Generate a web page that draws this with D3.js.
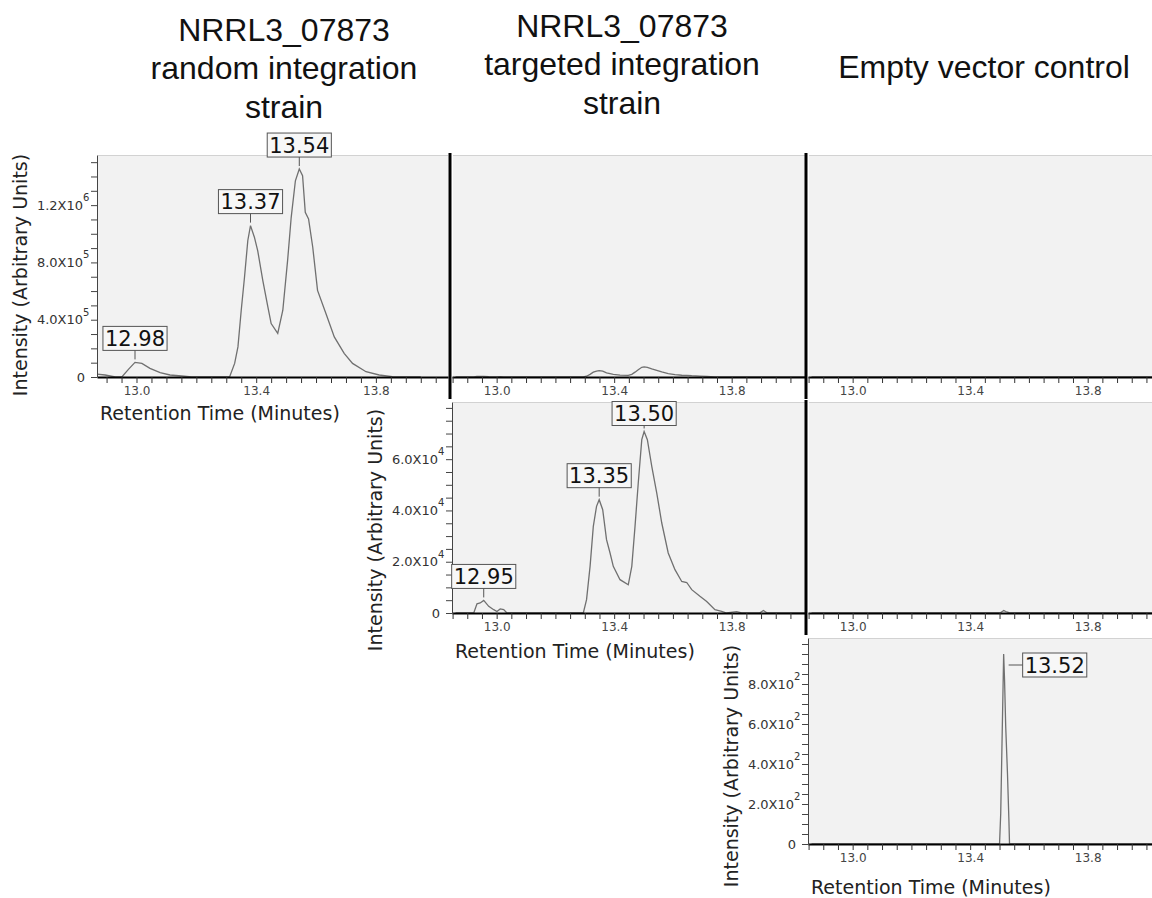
<!DOCTYPE html>
<html>
<head>
<meta charset="utf-8">
<script src="https://cdn.jsdelivr.net/npm/d3@7"></script>
<style>
  body { margin: 0; background: #fff; }
  svg text { font-family: "DejaVu Sans", sans-serif; }
</style>
</head>
<body>
<svg id="chart" width="1152" height="898"></svg>
<script>
// column headers, one per sample
const sampleTitles = [
  ["NRRL3_07873", "random integration", "strain"],
  ["NRRL3_07873", "targeted integration", "strain"],
  ["Empty vector control"]
];

// chromatogram traces (retention time in min, intensity)
const randomTime = [12.862, 12.895, 12.929, 12.951, 12.973, 12.995, 13.018, 13.045, 13.079, 13.112, 13.151, 13.184,
  13.311, 13.328, 13.339, 13.35, 13.361, 13.372, 13.381, 13.394, 13.405, 13.422, 13.439, 13.45, 13.472, 13.489,
  13.505, 13.517, 13.531, 13.544, 13.555, 13.564, 13.575, 13.589, 13.605, 13.633, 13.661, 13.694, 13.722, 13.767,
  13.811, 13.855, 13.95];
const randomIntensity = [21000, 14000, 0, 0, 53000, 102000, 95000, 60000, 30000, 14000, 7000, 0,
  0, 95000, 210000, 466000, 698000, 953000, 1057000, 976000, 883000, 675000, 489000, 373000, 304000, 466000,
  814000, 1115000, 1370000, 1452000, 1405000, 1150000, 1104000, 906000, 605000, 443000, 280000, 165000, 95000, 37000,
  14000, 2000, 0];

const targetedTime = [12.86, 12.922, 12.933, 12.944, 12.956, 12.973, 12.99, 13.001, 13.012, 13.024, 13.035,
  13.295, 13.306, 13.318, 13.329, 13.34, 13.349, 13.361, 13.374, 13.386, 13.397, 13.42, 13.448, 13.46, 13.471,
  13.482, 13.494, 13.502, 13.513, 13.528, 13.545, 13.562, 13.584, 13.607, 13.63, 13.647, 13.664, 13.692, 13.715,
  13.743, 13.766, 13.783, 13.817, 13.834, 13.895, 13.908, 13.921, 14.05];
const targetedIntensity = [0, 0, 3600, 3900, 4900, 2600, 1300, 600, 1600, 1300, 0,
  0, 5200, 18200, 33800, 41600, 44200, 40300, 28600, 23400, 18200, 13000, 11000, 18200, 33800,
  50700, 67600, 70800, 67600, 57200, 46800, 35100, 23400, 16900, 12300, 11900, 9100, 6500, 4500,
  1300, 600, 0, 500, 0, 0, 1000, 0, 0];

const emptyTime = [12.86, 13.45, 13.5, 13.504, 13.508, 13.512, 13.514, 13.517, 13.521, 13.527, 13.532, 13.534, 14.05];
const emptyIntensity = [0, 0, 0, 153, 470, 787, 950, 823, 587, 353, 112, 0, 0];

// labelled peaks
const randomPeaks = [12.98, 13.37, 13.54];
const targetedPeaks = [12.95, 13.35, 13.50];
const emptyPeaks = [13.52];

// axis ticks
const xTickLabels = [13.0, 13.4, 13.8];
const xMinorStep = 0.05;
const yMajorTicks = [[4e5, 8e5, 1.2e6], [2e4, 4e4, 6e4], [200, 400, 600, 800]];
const yMinorStep = [1e5, 5e3, 50];
const yMax = [1.55e6, 8.23e4, 1030];

// layout of the 3x3 (upper triangle) grid
const cols = [
  { x0: 97, x1: 448, domain: [12.868, 14.041], titleX: 284, titleY: [41, 79, 118] },
  { x0: 452, x1: 806, domain: [12.848, 14.053], titleX: 622, titleY: [37, 75, 114] },
  { x0: 808, x1: 1162, domain: [12.848, 14.053], titleX: 984, titleY: [78] }
];
const rows = [
  { top: 155, base: 377, yTitleY: 275, xTitleY: 420, labelTop: 0 },
  { top: 402, base: 613, yTitleY: 530, xTitleY: 658, labelTop: 401.5 },
  { top: 638, base: 844, yTitleY: 766, xTitleY: 894, labelTop: 638 }
];

const samples = [
  { time: randomTime, intensity: randomIntensity, peaks: randomPeaks },
  { time: targetedTime, intensity: targetedIntensity, peaks: targetedPeaks },
  { time: emptyTime, intensity: emptyIntensity, peaks: emptyPeaks }
];

const svg = d3.select("#chart");

// column titles
sampleTitles.forEach((lines, i) => {
  const t = svg.append("text")
    .attr("text-anchor", "middle")
    .style("font-family", '"Liberation Sans", Arial, sans-serif')
    .style("font-size", "32px")
    .attr("fill", "#111");
  lines.forEach((line, j) => {
    t.append("tspan").attr("x", cols[i].titleX).attr("y", cols[i].titleY[j]).text(line);
  });
});

function drawPanel(r, c) {
  const row = rows[r], col = cols[c], s = samples[c];
  const diag = r === c;

  const x = d3.scaleLinear().domain(col.domain).range([col.x0, col.x1]);
  const y = d3.scaleLinear().domain([0, yMax[r]]).range([row.base, row.top]);

  const g = svg.append("g").attr("class", `panel-${r}-${c}`);

  // plot background
  g.append("rect")
    .attr("x", col.x0 + 1)
    .attr("y", row.top)
    .attr("width", col.x1 - col.x0 - 1)
    .attr("height", row.base - row.top)
    .attr("fill", "#f2f2f2");
  g.append("line")
    .attr("x1", col.x0 + 1).attr("x2", col.x1)
    .attr("y1", row.top + 0.5).attr("y2", row.top + 0.5)
    .attr("stroke", "#d2d2d2");

  // trace
  const clipId = `clip-${r}-${c}`;
  g.append("clipPath").attr("id", clipId)
    .append("rect")
    .attr("x", col.x0).attr("y", row.top - 2)
    .attr("width", col.x1 - col.x0).attr("height", row.base - row.top + 2);

  const line = d3.line()
    .x(i => x(s.time[i]))
    .y(i => y(s.intensity[i]));

  g.append("path")
    .datum(d3.range(s.time.length))
    .attr("clip-path", `url(#${clipId})`)
    .attr("fill", "none")
    .attr("stroke", "#707070")
    .attr("stroke-width", 1.3)
    .attr("d", line);

  // x axis
  const xTicks = d3.range(250, 290)
    .map(i => Math.round(i * xMinorStep * 100) / 100)
    .filter(v => v >= col.domain[0] && v <= col.domain[1]);

  const xAxisG = g.append("g")
    .attr("transform", `translate(0,${row.base})`)
    .call(d3.axisBottom(x)
      .tickValues(xTicks)
      .tickSize(6)
      .tickSizeOuter(0)
      .tickPadding(3)
      .tickFormat(d => xTickLabels.some(v => Math.abs(v - d) < 1e-6) ? d.toFixed(1) : ""));
  xAxisG.select(".domain").attr("stroke", "#000").attr("stroke-width", 2);
  xAxisG.selectAll(".tick line").attr("stroke", "#333");
  xAxisG.selectAll(".tick text")
    .attr("fill", "#444")
    .style("font-size", "12px")
    .style("font-family", '"DejaVu Sans", sans-serif');

  if (!diag) {
    // heavy divider where the hidden y axis would sit
    g.append("line")
      .attr("x1", col.x0 - 2).attr("x2", col.x0 - 2)
      .attr("y1", row.top - 2).attr("y2", row.base + 22)
      .attr("stroke", "#000")
      .attr("stroke-width", 3);
    return;
  }

  // y axis
  const yTicks = d3.range(0, Math.floor(yMax[r] / yMinorStep[r]) + 1).map(i => i * yMinorStep[r]);
  const yAxisG = g.append("g")
    .attr("transform", `translate(${col.x0},0)`)
    .call(d3.axisLeft(y).tickValues(yTicks).tickSize(6).tickSizeOuter(0).tickFormat(""));
  yAxisG.select(".domain").attr("stroke", "#444");
  yAxisG.selectAll(".tick line").attr("stroke", "#444");

  g.append("text")
    .attr("x", col.x0 - 12)
    .attr("y", y(0))
    .attr("dy", "0.36em")
    .attr("text-anchor", "end")
    .attr("fill", "#333")
    .style("font-size", "13px")
    .text("0");

  yMajorTicks[r].forEach(v => {
    const e = Math.floor(Math.log10(v));
    const m = (v / Math.pow(10, e)).toFixed(1);
    g.append("text")
      .attr("x", col.x0 - 14)
      .attr("y", y(v))
      .attr("dy", "0.36em")
      .attr("text-anchor", "end")
      .attr("fill", "#333")
      .style("font-size", "13px")
      .text(`${m}X10`);
    g.append("text")
      .attr("x", col.x0 - 14)
      .attr("y", y(v) - 4)
      .attr("fill", "#333")
      .style("font-size", "10px")
      .text(e);
  });

  // axis titles
  g.append("text")
    .attr("transform", `translate(${col.x0 - 77},${row.yTitleY}) rotate(-90)`)
    .attr("dy", "0.36em")
    .attr("text-anchor", "middle")
    .attr("fill", "#222")
    .style("font-size", "19px")
    .text("Intensity (Arbitrary Units)");

  g.append("text")
    .attr("x", col.x0 + 3)
    .attr("y", row.xTitleY)
    .attr("fill", "#222")
    .style("font-size", "19px")
    .text("Retention Time (Minutes)");

  // peak labels
  s.peaks.forEach(p => {
    let best = -1;
    s.time.forEach((t, i) => {
      if (Math.abs(t - p) <= 0.03 && (best < 0 || s.intensity[i] > s.intensity[best])) best = i;
    });
    const px = x(s.time[best]);
    const py = y(s.intensity[best]);

    const lab = g.append("g");
    const box = lab.append("rect");
    const txt = lab.append("text")
      .attr("text-anchor", "middle")
      .attr("dy", "0.36em")
      .attr("fill", "#111")
      .style("font-size", "21px")
      .text(p.toFixed(2));
    const w = txt.node().getComputedTextLength() + 4;
    const h = 24;

    let bx = px - w / 2;
    let by = Math.max(py - 12 - h, row.labelTop);
    if (by + h > py - 3) {
      // no room above the apex: put the label to its right
      bx = px + 19;
      by = py - 1;
      lab.append("line")
        .attr("x1", px + 5).attr("x2", bx)
        .attr("y1", by + h / 2).attr("y2", by + h / 2)
        .attr("stroke", "#555");
    } else {
      lab.append("line")
        .attr("x1", px).attr("x2", px)
        .attr("y1", by + h).attr("y2", py - 3)
        .attr("stroke", "#555");
    }

    box.attr("x", bx).attr("y", by).attr("width", w).attr("height", h)
      .attr("fill", "#f7f7f7")
      .attr("stroke", "#555");
    txt.attr("x", bx + w / 2).attr("y", by + h / 2);
  });
}

for (let r = 0; r < 3; r++) {
  for (let c = r; c < 3; c++) drawPanel(r, c);
}
</script>
</body>
</html>
